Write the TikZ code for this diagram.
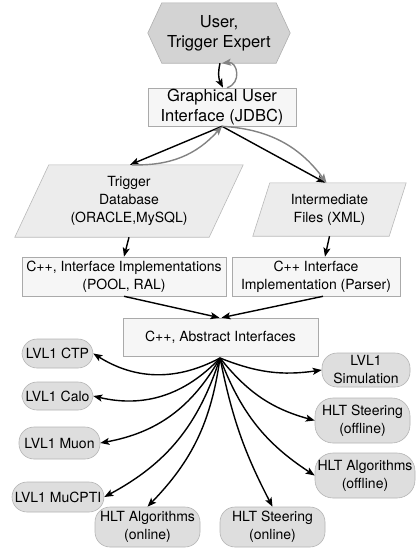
\documentclass[tikz,border=0pt]{standalone}
\usepackage{fontspec}
\setmainfont{TeX Gyre Heros}
\usetikzlibrary{arrows.meta, calc, backgrounds}
\definecolor{userbg}{RGB}{211, 211, 211}
\definecolor{userline}{RGB}{175, 175, 175}
\definecolor{boxbg}{RGB}{246, 246, 246}
\definecolor{boxline}{RGB}{170, 170, 170}
\definecolor{parabg}{RGB}{236, 236, 236}
\definecolor{paraline}{RGB}{185, 185, 185}
\definecolor{pillbg}{RGB}{222, 222, 222}
\definecolor{pillline}{RGB}{180, 180, 180}
\definecolor{backflow}{RGB}{130, 130, 130}

\begin{document}
\begin{tikzpicture}[
    x=1pt, y=1pt,
    txt/.style={font=\fontsize{14}{18}\selectfont, align=center,
                inner sep=0pt},
    bigtxt/.style={font=\fontsize{16.5}{20}\selectfont, align=center,
                   inner sep=0pt},
    box/.style={txt, draw=boxline, fill=boxbg, line width=0.6pt},
    pill/.style={txt, draw=pillline, fill=pillbg, line width=0.6pt,
                 rounded corners=15pt},
    arr/.style={-{Stealth[length=9pt, width=7pt, inset=2pt]},
                line width=1.4pt},
    garr/.style={arr, draw=backflow, color=backflow},
]
\useasboundingbox (0, 0) rectangle (417, -550);

% -- User and GUI --
\node[bigtxt, minimum width=142, minimum height=60] (user)
    at (219, -33) {User,\\Trigger Expert};
\node[box, font=\fontsize{16.5}{20}\selectfont,
      minimum width=148, minimum height=38] (gui)
    at (222, -107) {Graphical User\\Interface (JDBC)};

% -- Storage (parallelograms) --
\node[txt, minimum width=228, minimum height=72] (tdb)
    at (129, -201) {Trigger\\Database\\(ORACLE,MySQL)};
\node[txt, minimum width=153, minimum height=53] (xml)
    at (329.5, -209.5) {Intermediate\\Files (XML)};

\begin{scope}[on background layer]
    \filldraw[fill=userbg, draw=userline, line width=0.6pt]
        (user.west) -- ([xshift=14pt]user.north west)
        -- ([xshift=-14pt]user.north east) -- (user.east)
        -- ([xshift=-14pt]user.south east)
        -- ([xshift=14pt]user.south west) -- cycle;
    \filldraw[fill=parabg, draw=paraline, line width=0.6pt]
        ([xshift=34pt]tdb.north west) -- (tdb.north east)
        -- ([xshift=-34pt]tdb.south east) -- (tdb.south west) -- cycle;
    \filldraw[fill=parabg, draw=paraline, line width=0.6pt]
        ([xshift=17pt]xml.north west) -- (xml.north east)
        -- ([xshift=-17pt]xml.south east) -- (xml.south west) -- cycle;
\end{scope}

% -- Interface layers --
\node[box, minimum width=204, minimum height=39] (pool)
    at (124, -276.5) {C++, Interface Implementations\\(POOL, RAL)};
\node[box, minimum width=168, minimum height=39] (parser)
    at (316, -276.5) {C++ Interface\\Implementation (Parser)};
\node[box, minimum width=195, minimum height=38] (abst)
    at (220.5, -337) {C++, Abstract Interfaces};
\coordinate (hub) at (220, -358);

% -- Clients --
\node[pill, minimum width=71, minimum height=29] (ctp)
    at (57.5, -353.5) {LVL1 CTP};
\node[pill, minimum width=71, minimum height=28] (calo)
    at (57.5, -396) {LVL1 Calo};
\node[pill, minimum width=81, minimum height=32] (muon)
    at (59.5, -443) {LVL1 Muon};
\node[pill, minimum width=92, minimum height=30] (mucpti)
    at (58, -497) {LVL1 MuCPTI};
\node[pill, minimum width=105, minimum height=40] (algon)
    at (147.5, -527) {HLT Algorithms\\(online)};
\node[pill, minimum width=105, minimum height=40] (steeron)
    at (272.5, -527) {HLT Steering\\(online)};
\node[pill, minimum width=88, minimum height=34] (sim)
    at (366, -370) {LVL1\\Simulation};
\node[pill, minimum width=95, minimum height=45,
      rounded corners=18pt] (steeroff)
    at (362.5, -420.5) {HLT Steering\\(offline)};
\node[pill, minimum width=100, minimum height=45,
      rounded corners=18pt] (algoff)
    at (365, -475.5) {HLT Algorithms\\(offline)};

% -- Top flow --
\draw[arr] ([xshift=1pt]user.south) to[bend right=20]
    ([xshift=1pt]gui.north);
\draw[garr] ([xshift=5pt]gui.north) to[bend right=85, looseness=1.6]
    ([xshift=3pt]user.south);
\draw[arr] (gui.south) -- ([xshift=1pt]tdb.north);
\draw[garr] ([xshift=3pt]tdb.north) to[bend right=25] (gui.south);
\draw[arr] (gui.south) -- ([xshift=-4pt]xml.north);
\draw[garr] (gui.south) to[bend left=25] ([xshift=-3pt]xml.north);

% -- Down to the abstract interfaces --
\draw[arr] (tdb.south) -- (pool.north);
\draw[arr] (xml.south) -- ([xshift=9pt]parser.north);
\draw[arr] (pool.south) -- ([xshift=-1pt]abst.north);
\draw[arr] ([xshift=7pt]parser.south) -- ([xshift=1pt]abst.north);

% -- Fan out to the clients --
\draw[arr] (hub) to[bend left=30] (ctp.east);
\draw[arr] (hub) to[bend left=30] (calo.east);
\draw[arr] (hub) to[bend left=25] (muon.east);
\draw[arr] (hub) to[bend left=22] (mucpti.east);
\draw[arr] (hub) to[bend left=18] (algon.north);
\draw[arr] (hub) to[bend right=8] (steeron.north);
\draw[arr] (hub) to[bend right=18] (algoff.west);
\draw[arr] (hub) to[bend right=18] (steeroff.west);
\draw[arr] (hub) to[bend right=15] (sim.west);

\end{tikzpicture}
\end{document}
